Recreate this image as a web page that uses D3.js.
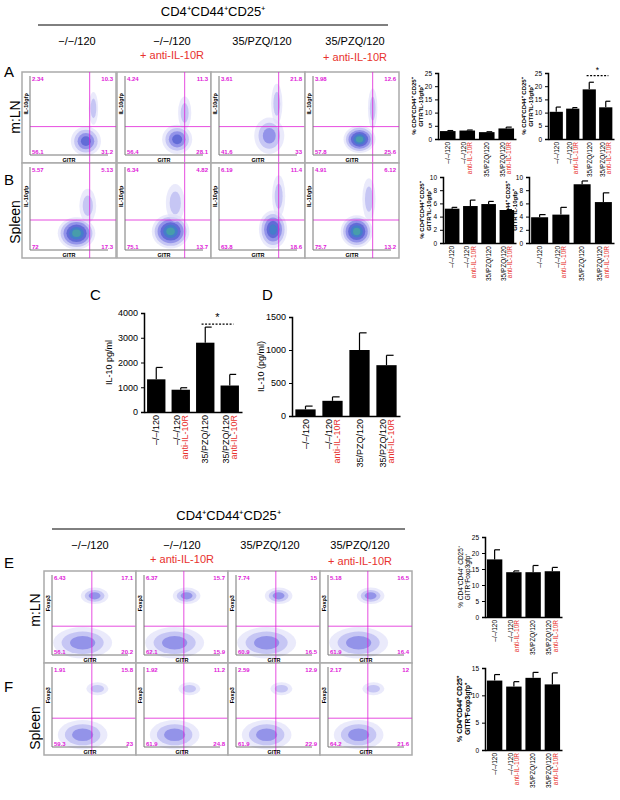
<!DOCTYPE html>
<html><head><meta charset="utf-8">
<script src="https://cdn.jsdelivr.net/npm/d3@7"></script>
<style>body{margin:0;background:#fff}text{font-family:Arial,"Liberation Sans",sans-serif}</style>
</head><body><svg id="fig" width="620" height="800"></svg>
<script>
// groups
var groups=["–/–/120","–/–/120","35/PZQ/120","35/PZQ/120"];
var groupsSub=["","anti-IL-10R","","anti-IL-10R"];
var headTop=["−/−/120","−/−/120","35/PZQ/120","35/PZQ/120"];
var headSub=["","+ anti-IL-10R","","+ anti-IL-10R"];

// quadrant numbers [UL, UR, LL, LR]
var quadA=[["2.34","10.3","56.1","31.2"],["4.24","11.3","56.4","28.1"],["3.61","21.8","41.6","33"],["3.98","12.6","57.8","25.6"]];
var quadB=[["5.57","5.13","72","17.3"],["6.34","4.82","75.1","13.7"],["6.19","11.4","63.8","18.6"],["4.91","6.12","75.7","13.2"]];
var quadE=[["6.43","17.1","56.1","20.2"],["6.37","15.7","62.1","15.9"],["7.74","15","60.9","16.5"],["5.18","16.5","61.9","16.4"]];
var quadF=[["1.91","15.8","59.3","23"],["1.92","11.2","61.9","24.8"],["2.59","12.9","61.9","22.9"],["2.17","12","64.2","21.6"]];

// bar values and SEM
var aLow=[3.0,3.2,2.6,4.0], aLowErr=[0.2,0.2,0.15,0.5];
var aHigh=[10.3,11.5,18.8,12.0], aHighErr=[1.8,0.4,2.7,2.3];
var bLow=[5.2,5.6,5.9,5.0], bLowErr=[0.2,0.9,0.4,0.05];
var bHigh=[3.9,4.3,8.9,6.2], bHighErr=[0.4,1.1,0.5,1.4];
var cVals=[1320,900,2800,1070], cErr=[480,80,630,450];
var dVals=[100,230,1000,770], dErr=[50,60,260,150];
var eVals=[18,14,14,14.3], eErr=[3,0.4,2.1,1.2];
var fVals=[12.7,11.6,13.2,12.0], fErr=[1.1,0.9,1.0,2.1];

var svg=d3.select("#fig");
var red="#e8322d", mag="#e020d8";

function header(cx,y,x1,x2){
  svg.append("text").attr("x",(x1+x2)/2).attr("y",y).attr("text-anchor","middle").attr("font-size",13)
    .text("CD4⁺CD44⁺CD25⁺");
  svg.append("line").attr("x1",x1).attr("x2",x2).attr("y1",y+9).attr("y2",y+9).attr("stroke","#000");
  cx.forEach(function(c,i){
    svg.append("text").attr("x",c).attr("y",y+29).attr("text-anchor","middle").attr("font-size",11).text(headTop[i]);
    if(headSub[i]) svg.append("text").attr("x",c).attr("y",y+43+(i==3?2:0)).attr("text-anchor","middle").attr("font-size",11).attr("fill",red).text(headSub[i]);
  });
}

function flow(x,y,w,h,q,vx,hy,clusters,ylab){
  var g=svg.append("g").attr("transform","translate("+x+","+y+")");
  var sx=d3.scaleLinear().domain([0,1]).range([0,w]), sy=d3.scaleLinear().domain([0,1]).range([0,h]);
  g.append("rect").attr("width",w).attr("height",h).attr("fill","#fff").attr("stroke","#aaa").attr("stroke-width",1.5);
  var cols=["#dcdcf8","#a8a8ee","#6a6ae0","#3a4ac8","#2e8cc0","#48b890","#b8d860"];
  clusters.forEach(function(c){
    var n=c.lvl;
    for(var k=0;k<n;k++){
      var f=1-k/(n+0.5);
      g.append("ellipse").attr("cx",sx(c.x)).attr("cy",sy(c.y)).attr("rx",sx(c.rx*f)).attr("ry",sy(c.ry*f))
        .attr("fill",cols[k]).attr("opacity",k==0?0.6:0.55);
    }
  });
  g.append("line").attr("x1",sx(vx)).attr("x2",sx(vx)).attr("y1",0).attr("y2",h).attr("stroke",mag).attr("stroke-width",0.8);
  g.append("line").attr("x1",8).attr("x2",w).attr("y1",sy(hy)).attr("y2",sy(hy)).attr("stroke",mag).attr("stroke-width",0.8);
  g.append("line").attr("x1",8).attr("x2",w-8).attr("y1",h-8).attr("y2",h-8).attr("stroke","#777");
  g.append("line").attr("x1",8).attr("x2",8).attr("y1",4).attr("y2",h-8).attr("stroke","#777");
  var fs=6;
  g.append("text").attr("x",10).attr("y",9).attr("font-size",fs).attr("fill",mag).attr("font-weight","bold").text(q[0]);
  g.append("text").attr("x",w-3).attr("y",9).attr("text-anchor","end").attr("font-size",fs).attr("fill",mag).attr("font-weight","bold").text(q[1]);
  g.append("text").attr("x",10).attr("y",h-9).attr("font-size",fs).attr("fill",mag).attr("font-weight","bold").text(q[2]);
  g.append("text").attr("x",w-3).attr("y",h-9).attr("text-anchor","end").attr("font-size",fs).attr("fill",mag).attr("font-weight","bold").text(q[3]);
  g.append("text").attr("x",w/2).attr("y",h-1).attr("text-anchor","middle").attr("font-size",5.5).attr("font-weight","bold").text("GITR");
  g.append("text").attr("transform","translate(6,"+(h*0.35)+") rotate(-90)").attr("text-anchor","middle").attr("font-size",5.5).attr("font-weight","bold").text(ylab);
}

function bars(o){
  var g=svg.append("g").attr("transform","translate("+o.x+","+o.y+")");
  var x=d3.scaleBand().domain(d3.range(4)).range([0,o.w]).paddingInner(o.pad).paddingOuter(o.pad/2);
  var y=d3.scaleLinear().domain([0,o.max]).range([o.h,0]);
  g.selectAll(".eb").data(o.vals).enter().append("line")
    .attr("x1",function(d,i){return x(i)+x.bandwidth()/2;}).attr("x2",function(d,i){return x(i)+x.bandwidth()/2;})
    .attr("y1",function(d){return y(d);}).attr("y2",function(d,i){return y(d+o.err[i]);}).attr("stroke","#000").attr("stroke-width",1.2);
  g.selectAll(".cap").data(o.vals).enter().append("line")
    .attr("x1",function(d,i){return x(i)+x.bandwidth()/2;}).attr("x2",function(d,i){return x(i)+x.bandwidth()*0.85;})
    .attr("y1",function(d,i){return y(d+o.err[i]);}).attr("y2",function(d,i){return y(d+o.err[i]);}).attr("stroke","#000").attr("stroke-width",1.2);
  g.selectAll("rect").data(o.vals).enter().append("rect")
    .attr("x",function(d,i){return x(i);}).attr("width",x.bandwidth())
    .attr("y",function(d){return y(d);}).attr("height",function(d){return o.h-y(d);}).attr("fill","#000");
  var ay=g.append("g").call(d3.axisLeft(y).tickValues(o.ticks).tickSize(3).tickFormat(d3.format("d")));
  ay.selectAll("text").attr("font-size",o.fs).attr("font-family","Arial");
  var ax=g.append("g").attr("transform","translate(0,"+o.h+")").call(d3.axisBottom(x).tickSize(0).tickFormat(""));
  ax.select(".domain").attr("stroke-width",1.5); ay.select(".domain").attr("stroke-width",1.5);
  o.vals.forEach(function(d,i){
    var cx=x(i)+x.bandwidth()/2;
    var t=g.append("text").attr("transform","translate("+cx+","+(o.h+3)+") rotate(-90)").attr("text-anchor","end").attr("font-size",o.lf);
    t.append("tspan").attr("x",0).attr("dy",groupsSub[i]?-1:o.lf*0.35).text(groups[i]);
    if(groupsSub[i]) t.append("tspan").attr("x",0).attr("dy",o.lf*0.95).attr("fill",red).text(groupsSub[i]);
  });
  var lh=o.yfs*1.15, off=o.yoff+lh*(o.ylab.length-1);
  var yl=g.append("text").attr("transform","translate("+(-off)+","+(o.h/2)+") rotate(-90)").attr("text-anchor","middle").attr("font-size",o.yfs).attr("font-weight",o.ybold?"bold":"normal");
  o.ylab.forEach(function(l,k){yl.append("tspan").attr("x",0).attr("dy",k?lh:0).text(l);});
  if(o.sig){
    var x1=x(2)+x.bandwidth()*0.3, x2=x(3)+x.bandwidth()*0.7, sy=y(o.sig);
    g.append("line").attr("x1",x1).attr("x2",x2).attr("y1",sy).attr("y2",sy).attr("stroke","#000").attr("stroke-dasharray","2,1.5").attr("stroke-width",1.2);
    g.append("text").attr("x",(x1+x2)/2).attr("y",sy-3).attr("text-anchor","middle").attr("font-size",o.fs+2).text("*");
  }
}

var labIL=["% CD4⁺CD44⁺ CD25⁺","GITR⁺IL-10gfp⁺"];
var labFox=["% CD4⁺CD44⁺ CD25⁺","GITR⁺Foxp3gfp⁺"];

// top section
header([77,172,262,355],16,38,388);
svg.append("text").attr("x",4).attr("y",77).attr("font-size",15).text("A");
svg.append("text").attr("x",4).attr("y",185).attr("font-size",15).text("B");
svg.append("text").attr("transform","translate(20,117) rotate(-90)").attr("text-anchor","middle").attr("font-size",14).text("m:LN");
svg.append("text").attr("transform","translate(20,222) rotate(-90)").attr("text-anchor","middle").attr("font-size",14).text("Spleen");
var bx=[22,117,211,305];
var clA=[[{x:0.68,y:0.76,rx:0.16,ry:0.16,lvl:4},{x:0.76,y:0.4,rx:0.05,ry:0.18,lvl:2}],
         [{x:0.64,y:0.74,rx:0.16,ry:0.16,lvl:4},{x:0.72,y:0.45,rx:0.07,ry:0.18,lvl:2}],
         [{x:0.62,y:0.7,rx:0.16,ry:0.2,lvl:3},{x:0.7,y:0.35,rx:0.06,ry:0.22,lvl:2}],
         [{x:0.58,y:0.74,rx:0.17,ry:0.15,lvl:6},{x:0.72,y:0.4,rx:0.05,ry:0.22,lvl:2}]];
var clB=[[{x:0.58,y:0.74,rx:0.2,ry:0.17,lvl:6},{x:0.7,y:0.45,rx:0.09,ry:0.18,lvl:2}],
         [{x:0.57,y:0.72,rx:0.2,ry:0.18,lvl:6},{x:0.62,y:0.42,rx:0.1,ry:0.2,lvl:2}],
         [{x:0.66,y:0.7,rx:0.15,ry:0.2,lvl:5},{x:0.72,y:0.35,rx:0.07,ry:0.22,lvl:2}],
         [{x:0.55,y:0.72,rx:0.17,ry:0.17,lvl:6},{x:0.68,y:0.38,rx:0.07,ry:0.22,lvl:2}]];
for(var i=0;i<4;i++){
  flow(bx[i],72,94,91,quadA[i],0.72,0.6,clA[i],"IL-10gfp");
  flow(bx[i],163,94,95,quadB[i],0.72,0.6,clB[i],"IL-10gfp");
}
var sm={h:66,pad:0.2,fs:6.5,lf:6.5,yfs:6,ybold:true,yoff:15};
bars(Object.assign({},sm,{x:438,y:73,w:78,max:25,ticks:[0,5,10,15,20,25],vals:aLow,err:aLowErr,ylab:labIL}));
bars(Object.assign({},sm,{x:548,y:73,w:66,max:25,ticks:[0,5,10,15,20,25],vals:aHigh,err:aHighErr,ylab:labIL,sig:24}));
bars(Object.assign({},sm,{x:443,y:177,w:73,max:10,ticks:[0,2,4,6,8,10],vals:bLow,err:bLowErr,ylab:labIL,yoff:12}));
bars(Object.assign({},sm,{x:529,y:177,w:85,max:10,ticks:[0,2,4,6,8,10],vals:bHigh,err:bHighErr,ylab:labIL,yoff:12}));

// C and D
svg.append("text").attr("x",90).attr("y",300).attr("font-size",15).text("C");
svg.append("text").attr("x",262).attr("y",300).attr("font-size",15).text("D");
bars({x:144,y:313,w:98,h:99,pad:0.25,fs:9,lf:9,yfs:9,yoff:32,max:4000,ticks:[0,1000,2000,3000,4000],vals:cVals,err:cErr,ylab:["IL-10 pg/ml"],sig:3550});
bars({x:292,y:317,w:108,h:99,pad:0.25,fs:9,lf:9,yfs:9,yoff:28,max:1500,ticks:[0,500,1000,1500],vals:dVals,err:dErr,ylab:["IL-10 (pg/ml)"]});

// E and F
header([90,182,270,360],520,52,405);
svg.append("text").attr("x",4).attr("y",568).attr("font-size",15).text("E");
svg.append("text").attr("x",4).attr("y",692).attr("font-size",15).text("F");
svg.append("text").attr("transform","translate(40,610) rotate(-90)").attr("text-anchor","middle").attr("font-size",14).text("m:LN");
svg.append("text").attr("transform","translate(40,728) rotate(-90)").attr("text-anchor","middle").attr("font-size",14).text("Spleen");
var ex=[44,136,228,320];
var clE=[{x:0.42,y:0.78,rx:0.32,ry:0.17,lvl:3},{x:0.55,y:0.27,rx:0.15,ry:0.09,lvl:3}];
var clF=[{x:0.42,y:0.78,rx:0.27,ry:0.16,lvl:3},{x:0.58,y:0.28,rx:0.12,ry:0.07,lvl:2}];
for(var j=0;j<4;j++){
  flow(ex[j],571,92,92,quadE[j],0.52,0.6,clE,"Foxp3");
  flow(ex[j],663,92,92,quadF[j],0.52,0.6,clF,"Foxp3");
}
bars(Object.assign({},sm,{x:485,y:537,w:77,h:80,max:25,ticks:[0,5,10,15,20,25],vals:eVals,err:eErr,ylab:labFox,ybold:false,yfs:6.5}));
bars(Object.assign({},sm,{x:485,y:668,w:77,h:82,max:15,ticks:[0,5,10,15],vals:fVals,err:fErr,ylab:labFox,yfs:7}));
</script></body></html>
